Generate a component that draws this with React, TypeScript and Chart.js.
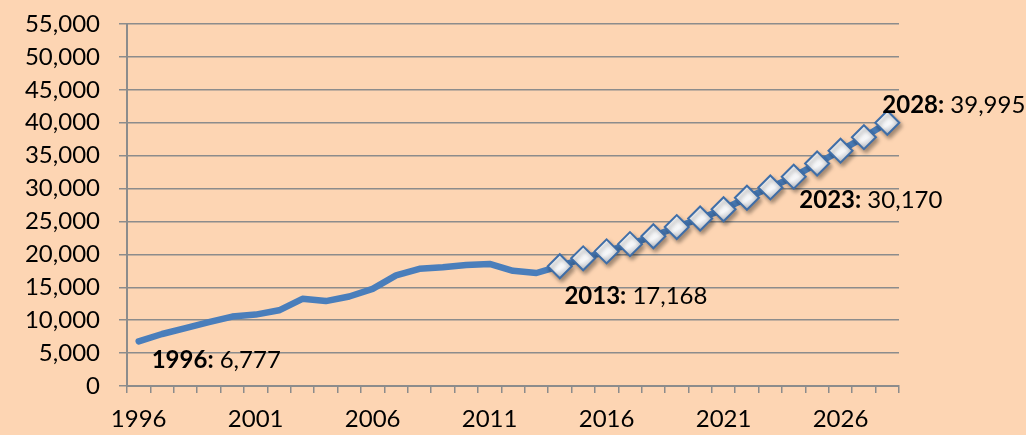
import React, { useEffect, useRef } from 'react';
import { Chart, registerables } from 'chart.js';

Chart.register(...registerables);

const years: string[] = [
  '1996', '1997', '1998', '1999', '2000', '2001', '2002', '2003', '2004', '2005', '2006',
  '2007', '2008', '2009', '2010', '2011', '2012', '2013', '2014', '2015', '2016', '2017',
  '2018', '2019', '2020', '2021', '2022', '2023', '2024', '2025', '2026', '2027', '2028',
];

// Historical values 1996–2013
const actualValues: number[] = [
  6777, 7900, 8800, 9700, 10550, 10850, 11500, 13250, 12900, 13600, 14750,
  16800, 17800, 18050, 18400, 18550, 17500, 17168,
];

// Projected values 2014–2028
const projectedValues: number[] = [
  18200, 19400, 20450, 21550, 22750, 24150, 25450, 26850, 28600, 30170,
  31800, 33800, 35750, 37800, 39995,
];

const yMax = 55000;
const yStep = 5000;
const xLabelEvery = 5;

const callouts = [
  { year: '1996', dx: 13, dy: 19 },
  { year: '2013', dx: 28, dy: 23 },
  { year: '2023', dx: 29, dy: 13 },
  { year: '2028', dx: -5, dy: -17 },
];

const FONT = 'Lato, "Open Sans", sans-serif';
const fmt = (v: number) => v.toLocaleString('en-US');

export default function App() {
  const ref = useRef<HTMLCanvasElement | null>(null);

  useEffect(() => {
    if (!ref.current) return;
    const allValues = [...actualValues, ...projectedValues];
    const markerValues = [
      ...actualValues.map(() => null),
      ...projectedValues,
    ];

    const calloutPlugin = {
      id: 'callouts',
      afterDatasetsDraw(chart: any) {
        const ctx = chart.ctx;
        const xs = chart.scales.x;
        const ys = chart.scales.y;
        ctx.save();
        ctx.textBaseline = 'middle';
        ctx.textAlign = 'left';
        ctx.fillStyle = '#000';
        for (const c of callouts) {
          const i = years.indexOf(c.year);
          const v = allValues[i];
          const px = xs.getPixelForValue(i) + c.dx;
          const py = ys.getPixelForValue(v) + c.dy;
          ctx.font = `bold 24px ${FONT}`;
          const boldText = `${c.year}:`;
          ctx.fillText(boldText, px, py);
          const w = ctx.measureText(boldText).width;
          ctx.font = `24px ${FONT}`;
          ctx.fillText(` ${fmt(v)}`, px + w, py);
        }
        ctx.restore();
      },
    };

    const shadowPlugin = {
      id: 'markerShadow',
      beforeDatasetDraw(chart: any, args: any) {
        if (args.index === 1) {
          const ctx = chart.ctx;
          ctx.save();
          ctx.shadowColor = 'rgba(0,0,0,0.35)';
          ctx.shadowBlur = 4;
          ctx.shadowOffsetX = 2;
          ctx.shadowOffsetY = 3;
        }
      },
      afterDatasetDraw(chart: any, args: any) {
        if (args.index === 1) chart.ctx.restore();
      },
    };

    const chart = new Chart(ref.current, {
      type: 'line',
      data: {
        labels: years,
        datasets: [
          {
            data: allValues,
            order: 2,
            borderColor: '#4a7ebb',
            borderWidth: 6.5,
            pointRadius: 0,
            tension: 0,
            borderJoinStyle: 'round',
            borderCapStyle: 'round',
          },
          {
            data: markerValues,
            order: 1,
            showLine: false,
            pointStyle: 'rectRot',
            pointRadius: 12,
            pointBorderWidth: 2,
            pointBorderColor: '#3f6ea8',
            pointBackgroundColor: (ctx: any) => {
              const c = ctx.chart;
              if (!c.chartArea || ctx.raw == null) return '#ffffff';
              const x = c.scales.x.getPixelForValue(ctx.dataIndex);
              const y = c.scales.y.getPixelForValue(ctx.raw);
              const g = c.ctx.createLinearGradient(x - 6, y - 10, x + 6, y + 10);
              g.addColorStop(0, '#ffffff');
              g.addColorStop(0.6, '#f5f6f8');
              g.addColorStop(1, '#b4b8c0');
              return g;
            },
          },
        ],
      },
      options: {
        animation: false,
        responsive: false,
        layout: { padding: { left: 0, right: 127, top: 24, bottom: 0 } },
        plugins: {
          legend: { display: false },
          tooltip: { enabled: false },
        },
        scales: {
          x: {
            type: 'category',
            offset: true,
            grid: {
              offset: true,
              drawOnChartArea: false,
              drawTicks: true,
              tickLength: 7,
              color: '#8c8c8c',
              lineWidth: 1.5,
            },
            border: { display: true, color: '#8c8c8c', width: 2 },
            ticks: {
              autoSkip: false,
              maxRotation: 0,
              padding: 12,
              color: '#000',
              font: { family: FONT, size: 24 },
              callback: (_v: any, i: number) => (i % xLabelEvery === 0 ? years[i] : ''),
            },
            afterFit: (s: any) => {
              s.height = 49;
              s.paddingLeft = 0;
              s.paddingRight = 0;
            },
          },
          y: {
            min: 0,
            max: yMax,
            grid: {
              color: '#8c8c8c',
              lineWidth: 1.5,
              tickLength: 8,
            },
            border: { display: true, color: '#8c8c8c', width: 2 },
            ticks: {
              stepSize: yStep,
              padding: 19,
              color: '#000',
              font: { family: FONT, size: 24 },
              callback: (v: any) => fmt(Number(v)),
            },
            afterFit: (s: any) => {
              s.width = 127;
              s.paddingTop = 0;
              s.paddingBottom = 0;
            },
          },
        },
      },
      plugins: [shadowPlugin, calloutPlugin],
    });
    return () => chart.destroy();
  }, []);

  return (
    <div
      style={{
        position: 'fixed',
        left: 0,
        top: 0,
        width: 1026,
        height: 435,
        background: '#fdd5b3',
      }}
    >
      <canvas ref={ref} width={1026} height={435} style={{ display: 'block' }} />
    </div>
  );
}
